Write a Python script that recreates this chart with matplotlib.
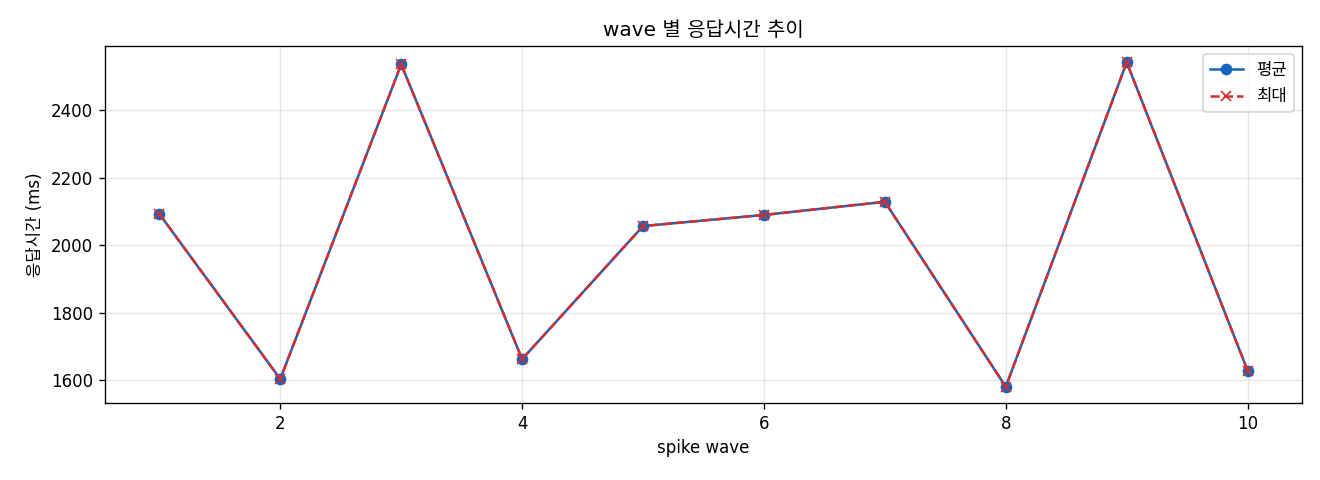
import numpy as np
import matplotlib
matplotlib.use('Agg')
import matplotlib.pyplot as plt

plt.rcParams['font.family'] = ['DejaVu Sans', 'Noto Sans CJK KR']
plt.rcParams['axes.unicode_minus'] = False

# wave 번호와 응답시간 (ms)
waves = [1, 2, 3, 4, 5, 6, 7, 8, 9, 10]
avg_ms = [2093, 1603, 2537, 1662, 2057, 2090, 2129, 1580, 2543, 1628]
max_ms = [2093, 1603, 2537, 1662, 2057, 2090, 2129, 1580, 2543, 1628]

fig, ax = plt.subplots(figsize=(11, 4), dpi=120)
ax.plot(waves, avg_ms, marker='o', color='#1565C0', linewidth=1.5, label='평균')
ax.plot(waves, max_ms, marker='x', linestyle='--', color='#D32F2F', linewidth=1.5, label='최대')

ax.set_title('wave 별 응답시간 추이')
ax.set_xlabel('spike wave')
ax.set_ylabel('응답시간 (ms)')
ax.grid(alpha=0.3)
ax.legend(loc='upper right')

fig.subplots_adjust(left=0.0795, right=0.9864, top=0.904, bottom=0.1604)
fig.savefig('out.png')
